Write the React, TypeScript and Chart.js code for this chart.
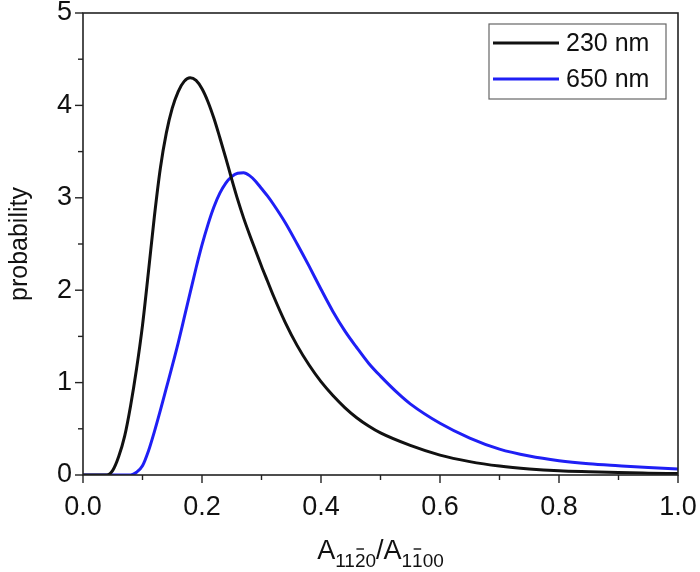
import React, { useEffect, useRef } from "react";
import { Chart, registerables } from "chart.js";

Chart.register(...registerables);

const seriesLabels = ["230 nm", "650 nm"];
const seriesColors = ["#111111", "#1f1ff5"];

const x230 = [0, 0.02, 0.04, 0.05, 0.06, 0.07, 0.08, 0.09, 0.1, 0.11, 0.12, 0.13, 0.14, 0.15, 0.16, 0.17, 0.18, 0.19, 0.2, 0.21, 0.22, 0.23, 0.24, 0.25, 0.26, 0.27, 0.28, 0.29, 0.3, 0.31, 0.32, 0.34, 0.36, 0.38, 0.4, 0.42, 0.44, 0.46, 0.48, 0.5, 0.55, 0.6, 0.65, 0.7, 0.75, 0.8, 0.85, 0.9, 0.95, 1.0];
const y230 = [0, 0, 0, 0.05, 0.2, 0.42, 0.75, 1.15, 1.62, 2.2, 2.8, 3.32, 3.7, 3.97, 4.15, 4.26, 4.3, 4.27, 4.18, 4.04, 3.86, 3.65, 3.43, 3.2, 2.98, 2.78, 2.6, 2.43, 2.26, 2.1, 1.94, 1.65, 1.4, 1.19, 1.01, 0.86, 0.73, 0.62, 0.53, 0.455, 0.32, 0.215, 0.145, 0.097, 0.066, 0.046, 0.035, 0.026, 0.02, 0.015];

const x650 = [0, 0.05, 0.08, 0.09, 0.1, 0.11, 0.12, 0.13, 0.14, 0.15, 0.16, 0.17, 0.18, 0.19, 0.2, 0.21, 0.22, 0.23, 0.24, 0.25, 0.26, 0.27, 0.28, 0.29, 0.3, 0.31, 0.32, 0.34, 0.36, 0.38, 0.4, 0.42, 0.44, 0.46, 0.48, 0.5, 0.53, 0.55, 0.6, 0.65, 0.7, 0.75, 0.8, 0.85, 0.9, 0.95, 1.0];
const y650 = [0, 0, 0, 0.03, 0.1, 0.26, 0.47, 0.7, 0.94, 1.18, 1.43, 1.7, 1.97, 2.24, 2.49, 2.71, 2.9, 3.05, 3.16, 3.23, 3.265, 3.27, 3.24, 3.18, 3.1, 3.02, 2.93, 2.73, 2.5, 2.26, 2.01, 1.77, 1.56, 1.38, 1.21, 1.07, 0.88, 0.77, 0.56, 0.4, 0.28, 0.205, 0.155, 0.122, 0.1, 0.08, 0.065];

const xTicks = [0, 0.1, 0.2, 0.3, 0.4, 0.5, 0.6, 0.7, 0.8, 0.9, 1.0];
const yTicks = [0, 0.5, 1, 1.5, 2, 2.5, 3, 3.5, 4, 4.5, 5];

const FONT = "'Liberation Sans', Arial, sans-serif";
const FRAME = "#222222";

const decorPlugin = {
  id: "decor",
  afterDraw(chart: any) {
    const { ctx, chartArea } = chart;
    const { left, right, top, bottom } = chartArea;
    const xs = chart.scales.x;
    const ys = chart.scales.y;
    ctx.save();
    // frame
    ctx.strokeStyle = FRAME;
    ctx.lineWidth = 1.6;
    ctx.strokeRect(left, top, right - left, bottom - top);
    // ticks
    ctx.lineWidth = 1.4;
    xTicks.forEach((v, i) => {
      const px = xs.getPixelForValue(v);
      const len = i % 2 === 0 ? 8 : 5;
      ctx.beginPath();
      ctx.moveTo(px, bottom);
      ctx.lineTo(px, bottom + len);
      ctx.stroke();
    });
    yTicks.forEach((v, i) => {
      const py = ys.getPixelForValue(v);
      const len = i % 2 === 0 ? 8 : 5;
      ctx.beginPath();
      ctx.moveTo(left, py);
      ctx.lineTo(left - len, py);
      ctx.stroke();
    });

    // legend
    const lx = 489, ly = 24, lw = 177, lh = 75;
    ctx.fillStyle = "#ffffff";
    ctx.fillRect(lx, ly, lw, lh);
    ctx.strokeStyle = "#666666";
    ctx.lineWidth = 1.2;
    ctx.strokeRect(lx, ly, lw, lh);
    ctx.font = `25px ${FONT}`;
    ctx.textBaseline = "middle";
    ctx.textAlign = "left";
    seriesLabels.forEach((lab, i) => {
      const cy = 43 + i * 36;
      ctx.strokeStyle = seriesColors[i];
      ctx.lineWidth = 3;
      ctx.beginPath();
      ctx.moveTo(493, cy);
      ctx.lineTo(559, cy);
      ctx.stroke();
      ctx.fillStyle = "#111111";
      ctx.fillText(lab, 566, cy + 1);
    });

    // x-axis title: A_{11 2bar 0}/A_{1 1bar 00}
    const parts: { t: string; sub: boolean; bar?: boolean }[] = [
      { t: "A", sub: false },
      { t: "11", sub: true },
      { t: "2", sub: true, bar: true },
      { t: "0", sub: true },
      { t: "/", sub: false },
      { t: "A", sub: false },
      { t: "1", sub: true },
      { t: "1", sub: true, bar: true },
      { t: "00", sub: true },
    ];
    const bigFont = `27px ${FONT}`;
    const subFont = `19px ${FONT}`;
    let total = 0;
    parts.forEach((p) => {
      ctx.font = p.sub ? subFont : bigFont;
      total += ctx.measureText(p.t).width;
    });
    let cx = (left + right) / 2 - total / 2;
    const base = 559;
    ctx.fillStyle = "#111111";
    ctx.textBaseline = "alphabetic";
    parts.forEach((p) => {
      ctx.font = p.sub ? subFont : bigFont;
      const w = ctx.measureText(p.t).width;
      const by = p.sub ? base + 8 : base;
      ctx.fillText(p.t, cx, by);
      if (p.bar) {
        ctx.strokeStyle = "#111111";
        ctx.lineWidth = 1.4;
        ctx.beginPath();
        ctx.moveTo(cx + 1.5, by - 18);
        ctx.lineTo(cx + w - 1.5, by - 18);
        ctx.stroke();
      }
      cx += w;
    });

    // y-axis title
    ctx.save();
    ctx.translate(27, (top + bottom) / 2);
    ctx.rotate(-Math.PI / 2);
    ctx.font = `25px ${FONT}`;
    ctx.textAlign = "center";
    ctx.textBaseline = "alphabetic";
    ctx.fillStyle = "#111111";
    ctx.fillText("probability", 0, 0);
    ctx.restore();

    ctx.restore();
  },
};

export default function App() {
  const ref = useRef<HTMLCanvasElement | null>(null);
  useEffect(() => {
    if (!ref.current) return;
    const mk = (xs: number[], ys: number[]) => xs.map((x, i) => ({ x, y: ys[i] }));
    const chart = new Chart(ref.current, {
      type: "line",
      data: {
        datasets: [
          {
            label: seriesLabels[0],
            data: mk(x230, y230),
            borderColor: seriesColors[0],
            borderWidth: 3,
            pointRadius: 0,
            cubicInterpolationMode: "monotone",
            fill: false,
          },
          {
            label: seriesLabels[1],
            data: mk(x650, y650),
            borderColor: seriesColors[1],
            borderWidth: 3,
            pointRadius: 0,
            cubicInterpolationMode: "monotone",
            fill: false,
          },
        ],
      },
      options: {
        animation: false,
        responsive: false,
        maintainAspectRatio: false,
        layout: { padding: { top: 13, right: 22, left: 0, bottom: 0 } },
        plugins: { legend: { display: false }, tooltip: { enabled: false } },
        scales: {
          x: {
            type: "linear",
            min: 0,
            max: 1,
            grid: { display: false, drawTicks: true, tickLength: 8 },
            border: { display: false },
            ticks: {
              stepSize: 0.2,
              padding: 8,
              color: "#111111",
              font: { family: FONT, size: 27 },
              callback: (v: any) => Number(v).toFixed(1),
              maxRotation: 0,
            },
            afterFit: (s: any) => {
              s.height = 97;
              s.paddingLeft = 0;
              s.paddingRight = 0;
            },
          },
          y: {
            type: "linear",
            min: 0,
            max: 5,
            grid: { display: false, drawTicks: true, tickLength: 8 },
            border: { display: false },
            ticks: {
              stepSize: 1,
              padding: 3,
              color: "#111111",
              font: { family: FONT, size: 27 },
              callback: (v: any) => String(v),
            },
            afterFit: (s: any) => {
              s.width = 83;
              s.paddingTop = 0;
              s.paddingBottom = 0;
            },
          },
        },
      },
      plugins: [decorPlugin],
    });
    return () => chart.destroy();
  }, []);
  return (
    <div style={{ position: "fixed", left: 0, top: 0, width: 700, height: 572, background: "#fff" }}>
      <canvas ref={ref} width={700} height={572} style={{ display: "block" }} />
    </div>
  );
}
